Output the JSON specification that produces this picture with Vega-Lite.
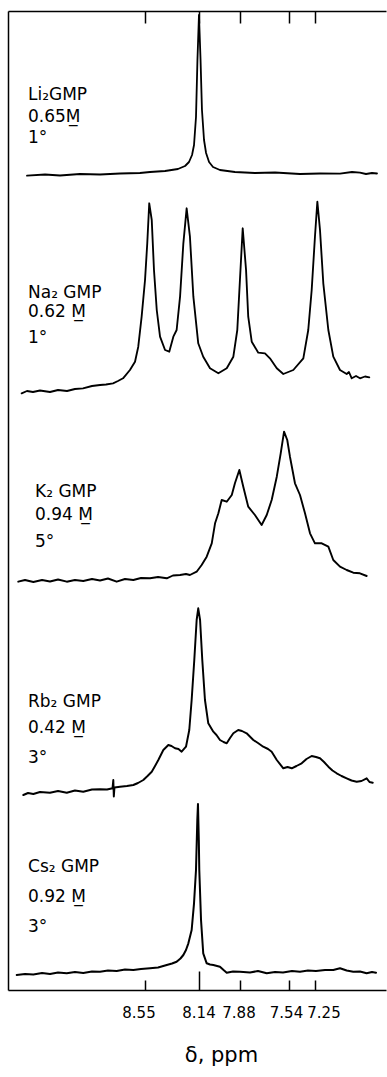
{
  "$schema": "https://vega.github.io/schema/vega-lite/v6.json",
  "width": 378,
  "height": 979,
  "autosize": {"type": "none"},
  "padding": {"left": 8, "top": 11, "right": 1, "bottom": 87},
  "background": "white",
  "config": {
    "view": {"stroke": null},
    "font": "DejaVu Sans",
    "axis": {"grid": false, "domainColor": "black", "tickColor": "black", "labelColor": "black", "titleColor": "black"}
  },
  "datasets": {
    "traces": [
      {"sample":"Li","ppm":9.454,"signal":814.3},{"sample":"Li","ppm":9.315,"signal":815.5},{"sample":"Li","ppm":9.200,"signal":814.5},{"sample":"Li","ppm":9.046,"signal":816},{"sample":"Li","ppm":8.892,"signal":815.5},{"sample":"Li","ppm":8.738,"signal":816.5},{"sample":"Li","ppm":8.585,"signal":817},{"sample":"Li","ppm":8.508,"signal":818},{"sample":"Li","ppm":8.394,"signal":819},{"sample":"Li","ppm":8.296,"signal":821},{"sample":"Li","ppm":8.242,"signal":824},{"sample":"Li","ppm":8.212,"signal":828},{"sample":"Li","ppm":8.189,"signal":835},{"sample":"Li","ppm":8.174,"signal":845},{"sample":"Li","ppm":8.159,"signal":873},{"sample":"Li","ppm":8.148,"signal":930},{"sample":"Li","ppm":8.137,"signal":975},{"sample":"Li","ppm":8.127,"signal":930},{"sample":"Li","ppm":8.118,"signal":880},{"sample":"Li","ppm":8.105,"signal":850},{"sample":"Li","ppm":8.092,"signal":837},{"sample":"Li","ppm":8.073,"signal":828},{"sample":"Li","ppm":8.048,"signal":823},{"sample":"Li","ppm":8.004,"signal":820},{"sample":"Li","ppm":7.909,"signal":818},{"sample":"Li","ppm":7.774,"signal":817},{"sample":"Li","ppm":7.636,"signal":817.5},{"sample":"Li","ppm":7.415,"signal":816},{"sample":"Li","ppm":7.190,"signal":816.5},{"sample":"Li","ppm":6.972,"signal":816.3},{"sample":"Li","ppm":6.841,"signal":818},{"sample":"Li","ppm":6.754,"signal":817.3},{"sample":"Li","ppm":6.688,"signal":816},{"sample":"Li","ppm":6.623,"signal":817},{"sample":"Li","ppm":6.568,"signal":816.5},

      {"sample":"Na","ppm":9.495,"signal":596.7},{"sample":"Na","ppm":9.454,"signal":599},{"sample":"Na","ppm":9.408,"signal":598},{"sample":"Na","ppm":9.354,"signal":599.5},{"sample":"Na","ppm":9.277,"signal":598},{"sample":"Na","ppm":9.215,"signal":600},{"sample":"Na","ppm":9.146,"signal":599},{"sample":"Na","ppm":9.085,"signal":601},{"sample":"Na","ppm":9.023,"signal":601.7},{"sample":"Na","ppm":8.954,"signal":604},{"sample":"Na","ppm":8.892,"signal":605},{"sample":"Na","ppm":8.846,"signal":605.5},{"sample":"Na","ppm":8.792,"signal":606.7},{"sample":"Na","ppm":8.754,"signal":609},{"sample":"Na","ppm":8.715,"signal":611.7},{"sample":"Na","ppm":8.662,"signal":620},{"sample":"Na","ppm":8.623,"signal":628.3},{"sample":"Na","ppm":8.598,"signal":643.3},{"sample":"Na","ppm":8.572,"signal":673.3},{"sample":"Na","ppm":8.546,"signal":710},{"sample":"Na","ppm":8.529,"signal":746.7},{"sample":"Na","ppm":8.514,"signal":786.7},{"sample":"Na","ppm":8.495,"signal":770},{"sample":"Na","ppm":8.478,"signal":720},{"sample":"Na","ppm":8.457,"signal":680},{"sample":"Na","ppm":8.432,"signal":653.3},{"sample":"Na","ppm":8.394,"signal":640},{"sample":"Na","ppm":8.362,"signal":638.3},{"sample":"Na","ppm":8.331,"signal":653.3},{"sample":"Na","ppm":8.306,"signal":660},{"sample":"Na","ppm":8.280,"signal":693.3},{"sample":"Na","ppm":8.255,"signal":746.7},{"sample":"Na","ppm":8.230,"signal":781.7},{"sample":"Na","ppm":8.205,"signal":753.3},{"sample":"Na","ppm":8.179,"signal":693.3},{"sample":"Na","ppm":8.142,"signal":646.7},{"sample":"Na","ppm":8.110,"signal":633.3},{"sample":"Na","ppm":8.067,"signal":621.7},{"sample":"Na","ppm":8.014,"signal":616.7},{"sample":"Na","ppm":7.961,"signal":621.7},{"sample":"Na","ppm":7.919,"signal":633.3},{"sample":"Na","ppm":7.894,"signal":660},{"sample":"Na","ppm":7.877,"signal":710},{"sample":"Na","ppm":7.858,"signal":761.7},{"sample":"Na","ppm":7.835,"signal":720},{"sample":"Na","ppm":7.820,"signal":673.3},{"sample":"Na","ppm":7.796,"signal":648.3},{"sample":"Na","ppm":7.751,"signal":637.3},{"sample":"Na","ppm":7.705,"signal":636.7},{"sample":"Na","ppm":7.671,"signal":631.7},{"sample":"Na","ppm":7.624,"signal":621.7},{"sample":"Na","ppm":7.579,"signal":616},{"sample":"Na","ppm":7.491,"signal":620},{"sample":"Na","ppm":7.377,"signal":631.7},{"sample":"Na","ppm":7.321,"signal":660},{"sample":"Na","ppm":7.282,"signal":700},{"sample":"Na","ppm":7.245,"signal":753.3},{"sample":"Na","ppm":7.219,"signal":788.3},{"sample":"Na","ppm":7.190,"signal":760},{"sample":"Na","ppm":7.154,"signal":706.7},{"sample":"Na","ppm":7.099,"signal":660},{"sample":"Na","ppm":7.045,"signal":633.3},{"sample":"Na","ppm":6.972,"signal":620},{"sample":"Na","ppm":6.899,"signal":616},{"sample":"Na","ppm":6.874,"signal":618},{"sample":"Na","ppm":6.844,"signal":611.7},{"sample":"Na","ppm":6.797,"signal":614},{"sample":"Na","ppm":6.754,"signal":611.7},{"sample":"Na","ppm":6.699,"signal":613.5},{"sample":"Na","ppm":6.652,"signal":612.7},

      {"sample":"K","ppm":9.521,"signal":408.3},{"sample":"K","ppm":9.469,"signal":410},{"sample":"K","ppm":9.405,"signal":408},{"sample":"K","ppm":9.338,"signal":410},{"sample":"K","ppm":9.277,"signal":408.5},{"sample":"K","ppm":9.215,"signal":410.5},{"sample":"K","ppm":9.148,"signal":408.3},{"sample":"K","ppm":9.085,"signal":410},{"sample":"K","ppm":9.021,"signal":409},{"sample":"K","ppm":8.954,"signal":411},{"sample":"K","ppm":8.892,"signal":409.5},{"sample":"K","ppm":8.831,"signal":411.5},{"sample":"K","ppm":8.764,"signal":408.3},{"sample":"K","ppm":8.700,"signal":411},{"sample":"K","ppm":8.636,"signal":410},{"sample":"K","ppm":8.577,"signal":412},{"sample":"K","ppm":8.508,"signal":411.7},{"sample":"K","ppm":8.447,"signal":413},{"sample":"K","ppm":8.381,"signal":411.7},{"sample":"K","ppm":8.334,"signal":414.5},{"sample":"K","ppm":8.280,"signal":415},{"sample":"K","ppm":8.235,"signal":416},{"sample":"K","ppm":8.205,"signal":415},{"sample":"K","ppm":8.154,"signal":418.3},{"sample":"K","ppm":8.120,"signal":425},{"sample":"K","ppm":8.088,"signal":433.3},{"sample":"K","ppm":8.056,"signal":446.7},{"sample":"K","ppm":8.035,"signal":466.7},{"sample":"K","ppm":8.014,"signal":476.7},{"sample":"K","ppm":7.993,"signal":490},{"sample":"K","ppm":7.961,"signal":488.3},{"sample":"K","ppm":7.929,"signal":495},{"sample":"K","ppm":7.909,"signal":506.7},{"sample":"K","ppm":7.881,"signal":520},{"sample":"K","ppm":7.854,"signal":503.3},{"sample":"K","ppm":7.820,"signal":483.3},{"sample":"K","ppm":7.774,"signal":475},{"sample":"K","ppm":7.728,"signal":465},{"sample":"K","ppm":7.693,"signal":475},{"sample":"K","ppm":7.659,"signal":490},{"sample":"K","ppm":7.624,"signal":513.3},{"sample":"K","ppm":7.597,"signal":536.7},{"sample":"K","ppm":7.574,"signal":558.3},{"sample":"K","ppm":7.552,"signal":550},{"sample":"K","ppm":7.529,"signal":533.3},{"sample":"K","ppm":7.472,"signal":506.7},{"sample":"K","ppm":7.415,"signal":495},{"sample":"K","ppm":7.358,"signal":476.7},{"sample":"K","ppm":7.301,"signal":456.7},{"sample":"K","ppm":7.245,"signal":446.7},{"sample":"K","ppm":7.171,"signal":446.7},{"sample":"K","ppm":7.099,"signal":443.3},{"sample":"K","ppm":7.045,"signal":430},{"sample":"K","ppm":6.972,"signal":423.3},{"sample":"K","ppm":6.899,"signal":420},{"sample":"K","ppm":6.827,"signal":417.3},{"sample":"K","ppm":6.754,"signal":416.7},{"sample":"K","ppm":6.681,"signal":414},

      {"sample":"Rb","ppm":9.482,"signal":195},{"sample":"Rb","ppm":9.446,"signal":197},{"sample":"Rb","ppm":9.405,"signal":196},{"sample":"Rb","ppm":9.354,"signal":198},{"sample":"Rb","ppm":9.277,"signal":197.3},{"sample":"Rb","ppm":9.215,"signal":199},{"sample":"Rb","ppm":9.148,"signal":197.3},{"sample":"Rb","ppm":9.085,"signal":199.5},{"sample":"Rb","ppm":9.021,"signal":198.3},{"sample":"Rb","ppm":8.954,"signal":200.5},{"sample":"Rb","ppm":8.892,"signal":200.7},{"sample":"Rb","ppm":8.838,"signal":200.5},{"sample":"Rb","ppm":8.796,"signal":201.7},{"sample":"Rb","ppm":8.790,"signal":210},{"sample":"Rb","ppm":8.786,"signal":193.5},{"sample":"Rb","ppm":8.781,"signal":202.5},{"sample":"Rb","ppm":8.738,"signal":203.3},{"sample":"Rb","ppm":8.685,"signal":204},{"sample":"Rb","ppm":8.636,"signal":205},{"sample":"Rb","ppm":8.600,"signal":207},{"sample":"Rb","ppm":8.559,"signal":210},{"sample":"Rb","ppm":8.527,"signal":214},{"sample":"Rb","ppm":8.495,"signal":218.3},{"sample":"Rb","ppm":8.470,"signal":224},{"sample":"Rb","ppm":8.445,"signal":230},{"sample":"Rb","ppm":8.407,"signal":240},{"sample":"Rb","ppm":8.369,"signal":245},{"sample":"Rb","ppm":8.345,"signal":244},{"sample":"Rb","ppm":8.318,"signal":241.7},{"sample":"Rb","ppm":8.292,"signal":241},{"sample":"Rb","ppm":8.268,"signal":238.3},{"sample":"Rb","ppm":8.235,"signal":243.3},{"sample":"Rb","ppm":8.210,"signal":260},{"sample":"Rb","ppm":8.192,"signal":290},{"sample":"Rb","ppm":8.172,"signal":330},{"sample":"Rb","ppm":8.154,"signal":370},{"sample":"Rb","ppm":8.142,"signal":381.7},{"sample":"Rb","ppm":8.130,"signal":370},{"sample":"Rb","ppm":8.116,"signal":330},{"sample":"Rb","ppm":8.099,"signal":290},{"sample":"Rb","ppm":8.078,"signal":266.7},{"sample":"Rb","ppm":8.046,"signal":258.3},{"sample":"Rb","ppm":8.026,"signal":255},{"sample":"Rb","ppm":8.004,"signal":250},{"sample":"Rb","ppm":7.981,"signal":248},{"sample":"Rb","ppm":7.961,"signal":246.7},{"sample":"Rb","ppm":7.940,"signal":252},{"sample":"Rb","ppm":7.919,"signal":256.7},{"sample":"Rb","ppm":7.888,"signal":260},{"sample":"Rb","ppm":7.863,"signal":259},{"sample":"Rb","ppm":7.831,"signal":256.7},{"sample":"Rb","ppm":7.785,"signal":250},{"sample":"Rb","ppm":7.753,"signal":247},{"sample":"Rb","ppm":7.717,"signal":243.3},{"sample":"Rb","ppm":7.684,"signal":241},{"sample":"Rb","ppm":7.659,"signal":238.3},{"sample":"Rb","ppm":7.624,"signal":230},{"sample":"Rb","ppm":7.579,"signal":221.7},{"sample":"Rb","ppm":7.550,"signal":223},{"sample":"Rb","ppm":7.509,"signal":221.7},{"sample":"Rb","ppm":7.455,"signal":224},{"sample":"Rb","ppm":7.396,"signal":226.7},{"sample":"Rb","ppm":7.341,"signal":231},{"sample":"Rb","ppm":7.282,"signal":234},{"sample":"Rb","ppm":7.234,"signal":233},{"sample":"Rb","ppm":7.190,"signal":231.7},{"sample":"Rb","ppm":7.146,"signal":228},{"sample":"Rb","ppm":7.099,"signal":223.3},{"sample":"Rb","ppm":7.054,"signal":219.5},{"sample":"Rb","ppm":7.008,"signal":216.7},{"sample":"Rb","ppm":6.955,"signal":214},{"sample":"Rb","ppm":6.899,"signal":211.7},{"sample":"Rb","ppm":6.846,"signal":209.5},{"sample":"Rb","ppm":6.790,"signal":208.3},{"sample":"Rb","ppm":6.737,"signal":209},{"sample":"Rb","ppm":6.681,"signal":211.7},{"sample":"Rb","ppm":6.650,"signal":208},{"sample":"Rb","ppm":6.615,"signal":207.3},

      {"sample":"Cs","ppm":9.533,"signal":15},{"sample":"Cs","ppm":9.469,"signal":16},{"sample":"Cs","ppm":9.405,"signal":15.5},{"sample":"Cs","ppm":9.338,"signal":17},{"sample":"Cs","ppm":9.277,"signal":16},{"sample":"Cs","ppm":9.215,"signal":17.5},{"sample":"Cs","ppm":9.148,"signal":16.7},{"sample":"Cs","ppm":9.085,"signal":18},{"sample":"Cs","ppm":9.021,"signal":17},{"sample":"Cs","ppm":8.954,"signal":18.5},{"sample":"Cs","ppm":8.892,"signal":18.3},{"sample":"Cs","ppm":8.831,"signal":19.5},{"sample":"Cs","ppm":8.764,"signal":19},{"sample":"Cs","ppm":8.700,"signal":20.5},{"sample":"Cs","ppm":8.636,"signal":20},{"sample":"Cs","ppm":8.577,"signal":21},{"sample":"Cs","ppm":8.508,"signal":21.7},{"sample":"Cs","ppm":8.447,"signal":22.5},{"sample":"Cs","ppm":8.381,"signal":25},{"sample":"Cs","ppm":8.341,"signal":26.5},{"sample":"Cs","ppm":8.306,"signal":28.3},{"sample":"Cs","ppm":8.277,"signal":31.5},{"sample":"Cs","ppm":8.255,"signal":35},{"sample":"Cs","ppm":8.235,"signal":40},{"sample":"Cs","ppm":8.217,"signal":46.7},{"sample":"Cs","ppm":8.192,"signal":60},{"sample":"Cs","ppm":8.174,"signal":86.7},{"sample":"Cs","ppm":8.159,"signal":120},{"sample":"Cs","ppm":8.149,"signal":170},{"sample":"Cs","ppm":8.144,"signal":186},{"sample":"Cs","ppm":8.138,"signal":150},{"sample":"Cs","ppm":8.135,"signal":120},{"sample":"Cs","ppm":8.124,"signal":70},{"sample":"Cs","ppm":8.110,"signal":36.7},{"sample":"Cs","ppm":8.088,"signal":26.7},{"sample":"Cs","ppm":8.067,"signal":25.5},{"sample":"Cs","ppm":8.046,"signal":25},{"sample":"Cs","ppm":8.004,"signal":23.3},{"sample":"Cs","ppm":7.981,"signal":20},{"sample":"Cs","ppm":7.961,"signal":17.3},{"sample":"Cs","ppm":7.921,"signal":18.5},{"sample":"Cs","ppm":7.877,"signal":18.3},{"sample":"Cs","ppm":7.808,"signal":17.5},{"sample":"Cs","ppm":7.753,"signal":19},{"sample":"Cs","ppm":7.693,"signal":16.7},{"sample":"Cs","ppm":7.636,"signal":18},{"sample":"Cs","ppm":7.581,"signal":17.5},{"sample":"Cs","ppm":7.506,"signal":19},{"sample":"Cs","ppm":7.415,"signal":18.3},{"sample":"Cs","ppm":7.324,"signal":19.5},{"sample":"Cs","ppm":7.234,"signal":19},{"sample":"Cs","ppm":7.135,"signal":20},{"sample":"Cs","ppm":7.045,"signal":20},{"sample":"Cs","ppm":6.972,"signal":21.7},{"sample":"Cs","ppm":6.899,"signal":19.5},{"sample":"Cs","ppm":6.827,"signal":18.3},{"sample":"Cs","ppm":6.754,"signal":18.5},{"sample":"Cs","ppm":6.681,"signal":16.7},{"sample":"Cs","ppm":6.623,"signal":18},{"sample":"Cs","ppm":6.579,"signal":17.3}
    ],
    "labels": [
      {"label":"Li\u2082GMP","ppm":9.446,"signal":890},
      {"label":"0.65M\u0332","ppm":9.446,"signal":868},
      {"label":"1°","ppm":9.446,"signal":847},
      {"label":"Na\u2082 GMP","ppm":9.446,"signal":692},
      {"label":"0.62 M\u0332","ppm":9.446,"signal":673},
      {"label":"1°","ppm":9.446,"signal":647},
      {"label":"K\u2082 GMP","ppm":9.392,"signal":493},
      {"label":"0.94 M\u0332","ppm":9.392,"signal":470},
      {"label":"5°","ppm":9.392,"signal":443},
      {"label":"Rb\u2082 GMP","ppm":9.446,"signal":283},
      {"label":"0.42 M\u0332","ppm":9.446,"signal":257},
      {"label":"3°","ppm":9.446,"signal":227},
      {"label":"Cs\u2082 GMP","ppm":9.446,"signal":118},
      {"label":"0.92 M\u0332","ppm":9.446,"signal":88},
      {"label":"3°","ppm":9.446,"signal":58}
    ]
  },
  "resolve": {"axis": {"x": "independent", "y": "independent"}},
  "layer": [
    {
      "data": {"name": "traces"},
      "mark": {"type": "line", "color": "black", "strokeJoin": "round", "strokeCap": "round"},
      "encoding": {
        "x": {
          "field": "ppm", "type": "quantitative",
          "scale": {"domain": [9.6, 8.55, 8.14, 7.88, 7.54, 7.25, 6.47], "range": [0, 136.5, 190.5, 231.5, 281, 306.5, 378], "nice": false, "zero": false},
          "axis": {
            "orient": "bottom",
            "values": [8.55, 8.14, 7.88, 7.54, 7.25],
            "format": ".2f",
            "tickSize": {"condition": {"test": "datum.value == 8.14", "value": -19}, "value": -10},
            "labelPadding": {"condition": {"test": "datum.value == 8.14", "value": 34}, "value": 25},
            "labelOffset": {"condition": [
              {"test": "datum.value == 8.55", "value": -6},
              {"test": "datum.value == 7.88", "value": -1},
              {"test": "datum.value == 7.54", "value": -3},
              {"test": "datum.value == 7.25", "value": 9}
            ], "value": 0},
            "labelOverlap": false,
            "labelBound": false,
            "tickWidth": 1.5,
            "domainWidth": 1.5,
            "labelFontSize": 15,
            "title": "δ, ppm",
            "titleFontSize": 21,
            "titleFontWeight": "normal",
            "titleX": 213,
            "titleY": 71,
            "titleAlign": "center",
            "titleBaseline": "alphabetic"
          }
        },
        "y": {
          "field": "signal", "type": "quantitative",
          "scale": {"domain": [0, 979], "nice": false, "zero": false},
          "axis": {"title": null, "labels": false, "ticks": false, "grid": false, "domainWidth": 1.5}
        },
        "detail": {"field": "sample"},
        "strokeWidth": {
          "field": "sample", "type": "nominal", "legend": null,
          "scale": {"domain": ["Li", "Na", "K", "Rb", "Cs"], "range": [1.8, 2, 2.8, 2.5, 2.5]}
        }
      }
    },
    {
      "data": {"name": "labels"},
      "mark": {"type": "text", "align": "left", "baseline": "alphabetic", "fontSize": 17, "color": "black"},
      "encoding": {
        "x": {
          "field": "ppm", "type": "quantitative",
          "scale": {"domain": [9.6, 8.55, 8.14, 7.88, 7.54, 7.25, 6.47], "range": [0, 136.5, 190.5, 231.5, 281, 306.5, 378], "nice": false, "zero": false},
          "axis": {
            "orient": "top",
            "values": [8.55, 8.14, 7.88, 7.54, 7.25],
            "labels": false,
            "tickSize": -12,
            "tickWidth": 1.5,
            "domainWidth": 1.5,
            "title": null
          }
        },
        "y": {
          "field": "signal", "type": "quantitative",
          "scale": {"domain": [0, 979], "nice": false, "zero": false},
          "axis": null
        },
        "text": {"field": "label"}
      }
    }
  ]
}
